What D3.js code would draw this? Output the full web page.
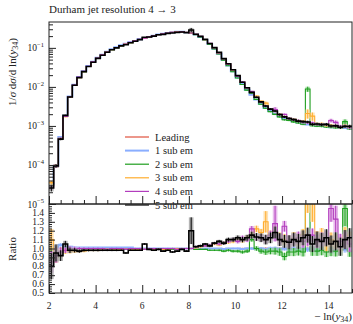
<!DOCTYPE html>
<html>
<head>
<meta charset="utf-8">
<script src="https://cdn.jsdelivr.net/npm/d3@7"></script>
<style>
  body { margin: 0; background: #fff; }
  svg text { font-family: "Liberation Serif", "DejaVu Serif", serif; fill: #222; }
</style>
</head>
<body>
<svg id="chart" width="353" height="324" font-family="Liberation Serif, DejaVu Serif, serif"></svg>
<script>
// histogram: -ln(y34) from 2 to 15, bins of 0.2
var binStart = 2, binEnd = 15, binWidth = 0.2;

var seriesNames = ["Leading", "1 sub em", "2 sub em", "3 sub em", "4 sub em", "5 sub em"];

// 1/sigma dsigma/dln(y34) for the leading calculation
var leading = [
  3.2e-5, 1.0e-4, 5.0e-4, 1.78e-3, 5.6e-3,
  0.0112, 0.0178, 0.0251, 0.0339, 0.0437,
  0.055, 0.066, 0.079, 0.091, 0.102,
  0.115, 0.126, 0.138, 0.151, 0.166,
  0.178, 0.191, 0.204, 0.219, 0.229,
  0.240, 0.251, 0.257, 0.257, 0.251,
  0.240, 0.219, 0.191, 0.158, 0.126,
  0.0955, 0.0708, 0.0501, 0.0355, 0.0251,
  0.0174, 0.0120, 0.0085, 0.0063, 0.0048,
  0.0037, 0.00295, 0.0024, 0.00204, 0.00178,
  0.00158, 0.00145, 0.00132, 0.00123, 0.00115,
  0.0011, 0.00105, 0.00102, 0.001, 0.00098,
  0.00095, 0.00093, 0.00091, 0.00089, 0.00087
];

// ratios to Leading
var ratio1 = [
  1.03, 0.96, 1.04, 1.02, 1.02,
  1.01, 1.01, 1.01, 1.01, 1.01,
  1.01, 1.01, 1.01, 1.01, 1.01,
  1.01, 1.01, 1.01, 1.0, 1.0,
  1.0, 1.0, 1.0, 1.0, 1.0,
  1.0, 1.0, 1.0, 1.0, 1.0,
  1.0, 1.0, 1.0, 1.0, 1.0,
  1.0, 1.0, 0.995, 1.0, 1.0,
  1.0, 0.995, 1.0, 1.0, 0.995,
  1.0, 0.99, 1.0, 1.0, 0.99,
  1.0, 0.99, 1.0, 0.99, 1.0,
  0.99, 1.0, 0.98, 1.0, 0.99,
  0.97, 0.98, 1.0, 0.99, 0.99
];
var ratio2 = [
  0.93, 0.9, 0.96, 0.98, 0.99,
  0.98, 0.98, 0.98, 0.98, 0.98,
  0.98, 0.99, 0.99, 0.99, 0.99,
  0.99, 0.99, 0.99, 0.99, 0.99,
  0.99, 0.99, 0.99, 0.99, 0.99,
  0.99, 0.99, 0.99, 1.0, 1.0,
  1.0, 0.99, 0.99, 0.99, 0.98,
  0.98, 0.98, 0.97, 0.98, 0.97,
  0.97, 0.96, 0.97, 1.1, 1.0,
  0.97, 0.96, 0.97, 0.97, 0.96,
  0.91, 0.96, 0.96, 0.97, 0.96,
  8.0, 0.97, 0.97, 0.98, 0.96,
  0.97, 0.97, 0.98, 1.45, 0.97
];
var ratio3 = [
  1.1, 0.92, 0.95, 0.97, 0.97,
  0.97, 0.97, 0.97, 0.98, 0.98,
  0.98, 0.99, 0.99, 0.99, 0.99,
  0.99, 0.99, 0.99, 0.99, 0.99,
  0.99, 0.99, 0.99, 0.99, 0.99,
  0.99, 1.0, 1.0, 1.0, 1.0,
  1.0, 1.01, 1.02, 1.03, 1.03,
  1.05, 1.04, 1.06, 1.07, 1.08,
  1.1, 1.09, 1.12, 1.16, 1.22,
  1.18, 1.3, 1.15, 1.2, 1.12,
  1.1, 1.08, 1.12, 1.1, 1.15,
  1.9, 1.7, 1.12, 1.15, 1.05,
  1.1, 1.08, 1.05, 1.15, 1.1
];
var ratio4 = [
  0.85, 0.92, 0.96, 0.98, 1.0,
  1.0, 1.0, 1.0, 1.0, 1.0,
  1.0, 1.0, 0.99, 1.0, 1.0,
  1.0, 0.99, 1.0, 1.0, 1.0,
  0.99, 1.0, 1.0, 0.99, 1.0,
  1.0, 1.0, 0.99, 1.0, 1.0,
  1.0, 1.02, 1.03, 1.03, 1.04,
  1.06, 1.05, 1.06, 1.08, 1.1,
  1.08, 1.12, 1.1, 1.22, 1.12,
  1.12, 1.1, 1.15, 1.28, 1.1,
  1.25, 1.08, 1.1, 1.12, 1.08,
  1.1, 1.15, 1.08, 1.1, 1.12,
  1.45, 1.33, 1.08, 1.1, 1.05
];
var ratio5 = [
  0.8, 0.95, 0.92, 1.05, 0.98,
  0.98, 0.97, 0.98, 0.98, 0.98,
  0.98, 0.98, 0.98, 0.98, 0.98,
  0.98, 0.95, 0.98, 0.98, 0.98,
  1.05, 0.99, 0.98, 0.99, 0.97,
  0.98, 0.96, 0.97, 0.99, 0.97,
  1.2, 1.02, 1.03, 1.05, 1.03,
  1.06, 1.08, 1.06, 1.1, 1.1,
  1.12, 1.1, 1.12, 1.15, 1.13,
  1.12, 1.1, 1.12, 1.18, 1.1,
  1.08, 1.07, 1.1, 1.08, 1.12,
  1.15, 1.05, 1.1, 1.08, 1.12,
  1.05, 1.08, 1.02, 1.1, 1.12
];

// statistical uncertainty (relative) per bin, and a size per series
var relErr = [
  0.12, 0.08, 0.05, 0.03, 0.025,
  0.02, 0.015, 0.012, 0.01, 0.01,
  0.01, 0.008, 0.008, 0.008, 0.008,
  0.007, 0.007, 0.007, 0.007, 0.007,
  0.007, 0.007, 0.007, 0.007, 0.007,
  0.007, 0.007, 0.007, 0.007, 0.007,
  0.008, 0.01, 0.01, 0.01, 0.012,
  0.012, 0.014, 0.016, 0.018, 0.02,
  0.022, 0.025, 0.028, 0.032, 0.036,
  0.04, 0.045, 0.05, 0.055, 0.06,
  0.06, 0.065, 0.065, 0.07, 0.07,
  0.07, 0.075, 0.075, 0.08, 0.08,
  0.08, 0.085, 0.085, 0.09, 0.09
];
var errScale = [0.3, 0.4, 0.7, 1, 1, 1.2];
// [series, bin, error] for the spiky bins
var spikeErr = [[5, 30, 0.15], [2, 55, 1.2], [3, 55, 0.5], [3, 56, 0.4], [4, 48, 0.2],
                [4, 60, 0.15], [4, 61, 0.15], [2, 63, 0.2], [3, 46, 0.12]];

var colors = ["#e0523e", "#8aaeff", "#1f9e1f", "#ffad2e", "#b23dbd", "#000000"];
var bandColors = ["#f4b0a6", "#c4d6ff", "#8fd68f", "#ffd89a", "#e0a6e6", "#9a9a9a"];
var widths = [1, 2, 1.1, 1.1, 1.1, 1.6];

var svg = d3.select("#chart");
var left = 49, right = 352, mainTop = 22, mainBot = 204, ratBot = 293;

var edges = d3.range(binStart, binEnd + 1e-9, binWidth);
var x = d3.scaleLinear().domain([binStart, binEnd]).range([left, right]);
var yMain = d3.scaleLog().domain([1e-5, 0.46]).range([mainBot, mainTop]);
var yRat = d3.scaleLinear().domain([0.5, 1.5]).range([ratBot, mainBot]);

var ratios = [leading.map(function (v) { return v / v; }), ratio1, ratio2, ratio3, ratio4, ratio5];
function errOf(s, i) {
  var e = relErr[i] * errScale[s];
  spikeErr.forEach(function (d) { if (d[0] == s && d[1] == i) e = d[2]; });
  return e;
}

var defs = svg.append("defs");
defs.append("clipPath").attr("id", "clipMain").append("rect")
  .attr("x", left).attr("y", mainTop).attr("width", right - left).attr("height", mainBot - mainTop);
defs.append("clipPath").attr("id", "clipRat").append("rect")
  .attr("x", left).attr("y", mainBot).attr("width", right - left).attr("height", ratBot - mainBot);

function stepPts(vals) {
  var pts = vals.map(function (v, i) { return [edges[i], v]; });
  pts.push([edges[vals.length], vals[vals.length - 1]]);
  return pts;
}

var gMain = svg.append("g").attr("clip-path", "url(#clipMain)");
var gRat = svg.append("g").attr("clip-path", "url(#clipRat)");

for (var s = 0; s < seriesNames.length; s++) {
  var r = ratios[s];
  var vals = leading.map(function (v, i) { return v * r[i]; });

  // main panel bands + error bars
  var lineMain = d3.line().curve(d3.curveStepAfter)
    .x(function (d) { return x(d[0]); })
    .y(function (d) { return yMain(Math.max(d[1], 1e-6)); });
  gMain.append("g").selectAll("rect").data(vals).enter().append("rect")
    .attr("x", function (d, i) { return x(edges[i]); })
    .attr("width", x(edges[1]) - x(edges[0]))
    .attr("y", function (d, i) { return yMain(d + leading[i] * errOf(s, i)); })
    .attr("height", function (d, i) {
      return yMain(Math.max(d - leading[i] * errOf(s, i), 1e-6)) - yMain(d + leading[i] * errOf(s, i));
    })
    .attr("fill", bandColors[s]).attr("opacity", 0.7);
  gMain.append("path").datum(stepPts(vals)).attr("d", lineMain)
    .attr("fill", "none").attr("stroke", colors[s]).attr("stroke-width", widths[s]);
  gMain.append("g").selectAll("line").data(vals).enter().append("line")
    .attr("x1", function (d, i) { return x(edges[i] + binWidth / 2); })
    .attr("x2", function (d, i) { return x(edges[i] + binWidth / 2); })
    .attr("y1", function (d, i) { return yMain(d + leading[i] * errOf(s, i)); })
    .attr("y2", function (d, i) { return yMain(Math.max(d - leading[i] * errOf(s, i), 1e-6)); })
    .attr("stroke", colors[s]).attr("stroke-width", 1);

  // ratio panel
  var lineRat = d3.line().curve(d3.curveStepAfter)
    .x(function (d) { return x(d[0]); })
    .y(function (d) { return yRat(d[1]); });
  gRat.append("g").selectAll("rect").data(r).enter().append("rect")
    .attr("x", function (d, i) { return x(edges[i]); })
    .attr("width", x(edges[1]) - x(edges[0]))
    .attr("y", function (d, i) { return yRat(d + errOf(s, i)); })
    .attr("height", function (d, i) { return yRat(d - errOf(s, i)) - yRat(d + errOf(s, i)); })
    .attr("fill", bandColors[s]).attr("opacity", 0.75);
  gRat.append("path").datum(stepPts(r)).attr("d", lineRat)
    .attr("fill", "none").attr("stroke", colors[s]).attr("stroke-width", widths[s]);
  gRat.append("g").selectAll("line").data(r).enter().append("line")
    .attr("x1", function (d, i) { return x(edges[i] + binWidth / 2); })
    .attr("x2", function (d, i) { return x(edges[i] + binWidth / 2); })
    .attr("y1", function (d, i) { return yRat(d + errOf(s, i)); })
    .attr("y2", function (d, i) { return yRat(d - errOf(s, i)); })
    .attr("stroke", colors[s]).attr("stroke-width", 1);
}

// legend
var legend = svg.append("g");
seriesNames.forEach(function (name, i) {
  var ly = 137 + i * 13.6;
  legend.append("line").attr("x1", 125).attr("x2", 149).attr("y1", ly).attr("y2", ly)
    .attr("stroke", colors[i]).attr("stroke-width", i == 1 ? 2 : 1.2);
  legend.append("text").attr("x", 155).attr("y", ly + 3.5).attr("font-size", 10.5).text(name);
});

// frames
svg.append("rect").attr("x", left).attr("y", mainTop).attr("width", right - left)
  .attr("height", mainBot - mainTop).attr("fill", "none").attr("stroke", "#222").attr("stroke-width", 1);
svg.append("rect").attr("x", left).attr("y", mainBot).attr("width", right - left)
  .attr("height", ratBot - mainBot).attr("fill", "none").attr("stroke", "#222").attr("stroke-width", 1);

// x ticks (inward) in both panels
var xMajor = d3.range(2, 15.01, 2);
var xMinor = d3.range(2, 15.01, 0.5).filter(function (v) { return v % 2 != 0; });
[mainBot, ratBot].forEach(function (yb) {
  svg.append("g").attr("transform", "translate(0," + yb + ")")
    .call(d3.axisBottom(x).tickValues(xMajor).tickSize(-8).tickSizeOuter(0).tickFormat(""))
    .call(function (g) { g.select(".domain").remove(); g.selectAll("line").attr("stroke", "#222"); });
  svg.append("g").attr("transform", "translate(0," + yb + ")")
    .call(d3.axisBottom(x).tickValues(xMinor).tickSize(-4).tickSizeOuter(0).tickFormat(""))
    .call(function (g) { g.select(".domain").remove(); g.selectAll("line").attr("stroke", "#222"); });
});
svg.append("g").selectAll("text").data(xMajor).enter().append("text")
  .attr("x", function (d) { return x(d); }).attr("y", 309)
  .attr("text-anchor", "middle").attr("font-size", 9.5).text(function (d) { return d; });

// y ticks main (log)
var yMajor = [1e-5, 1e-4, 1e-3, 1e-2, 1e-1];
var yMinor = [];
[1e-5, 1e-4, 1e-3, 1e-2, 1e-1].forEach(function (dec) {
  [2, 3, 4, 5, 6, 7, 8, 9].forEach(function (m) { if (dec * m < 0.46) yMinor.push(dec * m); });
});
svg.append("g").attr("transform", "translate(" + left + ",0)")
  .call(d3.axisLeft(yMain).tickValues(yMajor).tickSize(-7).tickSizeOuter(0).tickFormat(""))
  .call(function (g) { g.select(".domain").remove(); g.selectAll("line").attr("stroke", "#222"); });
svg.append("g").attr("transform", "translate(" + left + ",0)")
  .call(d3.axisLeft(yMain).tickValues(yMinor).tickSize(-4).tickSizeOuter(0).tickFormat(""))
  .call(function (g) { g.select(".domain").remove(); g.selectAll("line").attr("stroke", "#222"); });
yMajor.forEach(function (v) {
  var t = svg.append("text").attr("x", 44).attr("y", yMain(v) + 3.5)
    .attr("text-anchor", "end").attr("font-size", 9.5);
  t.append("tspan").text("10");
  t.append("tspan").attr("dy", -4.5).attr("font-size", 6.5).text("\u2212" + Math.round(-Math.log10(v)));
});

// y ticks ratio
var rMajor = d3.range(0.5, 1.45, 0.1);
var rMinor = d3.range(0.5, 1.5, 0.025);
svg.append("g").attr("transform", "translate(" + left + ",0)")
  .call(d3.axisLeft(yRat).tickValues(rMajor).tickSize(-6).tickSizeOuter(0).tickFormat(""))
  .call(function (g) { g.select(".domain").remove(); g.selectAll("line").attr("stroke", "#222"); });
svg.append("g").attr("transform", "translate(" + left + ",0)")
  .call(d3.axisLeft(yRat).tickValues(rMinor).tickSize(-3).tickSizeOuter(0).tickFormat(""))
  .call(function (g) { g.select(".domain").remove(); g.selectAll("line").attr("stroke", "#222"); });
svg.append("g").selectAll("text").data(rMajor).enter().append("text")
  .attr("x", 44).attr("y", function (d) { return yRat(d) + 3; })
  .attr("text-anchor", "end").attr("font-size", 9.5)
  .text(function (d) { return d3.format(".1f")(d); });

// titles and axis labels
svg.append("text").attr("x", left).attr("y", 13).attr("font-size", 11)
  .text("Durham jet resolution 4 \u2192 3");

var yl = svg.append("text").attr("transform", "translate(16,72) rotate(-90)")
  .attr("text-anchor", "middle").attr("font-size", 11);
yl.append("tspan").text("1/");
yl.append("tspan").attr("font-style", "italic").text("\u03c3");
yl.append("tspan").text(" d");
yl.append("tspan").attr("font-style", "italic").text("\u03c3");
yl.append("tspan").text("/d ln(");
yl.append("tspan").attr("font-style", "italic").text("y");
yl.append("tspan").attr("font-size", 8).attr("dy", 2).text("34");
yl.append("tspan").attr("dy", -2).text(")");

svg.append("text").attr("transform", "translate(16,249) rotate(-90)")
  .attr("text-anchor", "middle").attr("font-size", 11).text("Ratio");

var xl = svg.append("text").attr("x", right).attr("y", 320)
  .attr("text-anchor", "end").attr("font-size", 11);
xl.append("tspan").text("\u2212 ln(");
xl.append("tspan").attr("font-style", "italic").text("y");
xl.append("tspan").attr("font-size", 8).attr("dy", 2).text("34");
xl.append("tspan").attr("dy", -2).text(")");
</script>
</body>
</html>
